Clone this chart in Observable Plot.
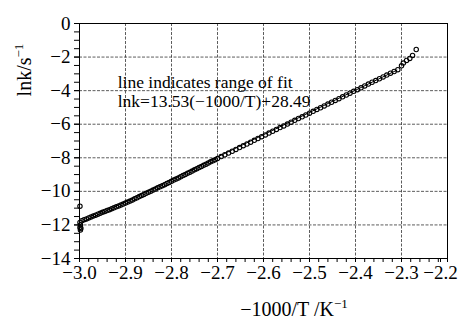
<!DOCTYPE html>
<html>
<head>
<meta charset="utf-8">
<script src="https://cdn.jsdelivr.net/npm/d3@7"></script>
<script src="https://cdn.jsdelivr.net/npm/@observablehq/plot@0.6"></script>
<style>
  html, body { margin: 0; padding: 0; background: #fff; }
  #chart { width: 462px; height: 320px; }
</style>
</head>
<body>
<div id="chart"></div>
<script>
// x tick labels / positions
const xTicks = [-3.0, -2.9, -2.8, -2.7, -2.6, -2.5, -2.4, -2.3, -2.2];
const yTicks = [0, -2, -4, -6, -8, -10, -12, -14];

// measured points: -1000/T (x) and ln k (y)
const xs = [
  -2.999, -2.998, -2.999, -2.998, -2.997, -2.999,
  -2.995, -2.990, -2.985, -2.980, -2.975, -2.970, -2.965, -2.960, -2.955, -2.950,
  -2.945, -2.940, -2.935, -2.930, -2.925, -2.920, -2.915, -2.910, -2.905, -2.900,
  -2.895, -2.890, -2.885, -2.880, -2.875, -2.870, -2.865, -2.860, -2.855, -2.850,
  -2.845, -2.840, -2.835, -2.830, -2.825, -2.820, -2.815, -2.810, -2.805, -2.800,
  -2.795, -2.790, -2.785, -2.780, -2.775, -2.770, -2.765, -2.760, -2.755, -2.750,
  -2.745, -2.740, -2.735, -2.730, -2.725, -2.720, -2.715, -2.710, -2.705, -2.700,
  -2.692, -2.684, -2.676, -2.668, -2.660, -2.652, -2.644, -2.636, -2.628, -2.620,
  -2.612, -2.604, -2.596, -2.588, -2.580, -2.572, -2.564, -2.556, -2.548, -2.540,
  -2.532, -2.524, -2.516, -2.508, -2.500, -2.492, -2.484, -2.476, -2.468, -2.460,
  -2.452, -2.444, -2.436, -2.428, -2.420, -2.412, -2.404, -2.396, -2.388, -2.380,
  -2.372, -2.364, -2.356, -2.348, -2.340, -2.332, -2.324, -2.316, -2.308,
  -2.300, -2.296, -2.289, -2.282, -2.276, -2.268
];
const ys = [
  -11.85, -12.00, -12.15, -12.30, -12.20, -10.88,
  -11.75, -11.69, -11.64, -11.58, -11.53, -11.47, -11.42, -11.36, -11.31, -11.25,
  -11.20, -11.14, -11.09, -11.03, -10.98, -10.92, -10.87, -10.81, -10.76, -10.70,
  -10.64, -10.57, -10.51, -10.44, -10.38, -10.31, -10.25, -10.18, -10.12, -10.05,
  -9.99, -9.92, -9.86, -9.79, -9.73, -9.66, -9.60, -9.53, -9.47, -9.40,
  -9.33, -9.26, -9.20, -9.13, -9.06, -8.99, -8.92, -8.86, -8.79, -8.72,
  -8.65, -8.58, -8.52, -8.45, -8.38, -8.31, -8.24, -8.18, -8.11, -8.04,
  -7.93, -7.82, -7.72, -7.61, -7.50, -7.39, -7.28, -7.18, -7.07, -6.96,
  -6.85, -6.74, -6.64, -6.53, -6.42, -6.31, -6.20, -6.10, -5.99, -5.88,
  -5.77, -5.66, -5.56, -5.45, -5.34, -5.23, -5.12, -5.02, -4.91, -4.80,
  -4.69, -4.58, -4.48, -4.37, -4.26, -4.15, -4.04, -3.94, -3.83, -3.72,
  -3.61, -3.50, -3.40, -3.29, -3.18, -3.07, -2.96, -2.86, -2.75,
  -2.52, -2.36, -2.20, -2.08, -1.90, -1.55
];

// fitted line over the range of the fit
const fitX = [-2.99, -2.31];
const fitY = [-11.80, -2.78];

const annotation = ["line indicates range of fit", "lnk=13.53(\u22121000/T)+28.49"];

const points = xs.map((x, i) => ({x, y: ys[i]}));
const fit = fitX.map((x, i) => ({x, y: fitY[i]}));

const xMinor = d3.range(-3.0, -2.199, 0.02);
const yMinor = d3.range(-14, 0.001, 0.5);
const fx = d3.format(".1f");
const fy = d3.format("d");

const serif = "Liberation Serif, serif";

const svg = Plot.plot({
  width: 462,
  height: 320,
  marginLeft: 79,
  marginRight: 15,
  marginTop: 23,
  marginBottom: 62,
  style: {fontFamily: serif, fontSize: "19px", color: "black", background: "white"},
  x: {domain: [-3.0, -2.2]},
  y: {domain: [-14, 0]},
  marks: [
    Plot.gridX(xTicks, {stroke: "#333", strokeOpacity: 1, strokeWidth: 0.8, strokeDasharray: "3,1.5"}),
    Plot.gridY(yTicks, {stroke: "#333", strokeOpacity: 1, strokeWidth: 0.8, strokeDasharray: "3,1.5"}),
    Plot.axisX(xMinor, {tickSize: 4, text: null, label: null}),
    Plot.axisY(yMinor, {tickSize: 5, text: null, label: null}),
    Plot.axisX(xTicks.slice(0, -1), {tickSize: 4, tickPadding: 3, tickFormat: fx, label: null, fontSize: 19}),
    Plot.axisX(xTicks.slice(-1), {tickSize: 4, tickPadding: 3, tickFormat: fx, label: null, fontSize: 19, dx: -7}),
    Plot.axisY(yTicks, {tickSize: 5, tickPadding: 4, tickFormat: fy, label: null, fontSize: 19}),
    Plot.frame({stroke: "black", strokeWidth: 1}),
    Plot.line(fit, {x: "x", y: "y", stroke: "black", strokeWidth: 1}),
    Plot.dot(points, {x: "x", y: "y", r: 2.2, stroke: "black", strokeWidth: 1.1, fill: "none"}),
    Plot.text([annotation.join("\n")], {
      x: -2.917, y: -3.0, text: d => d, textAnchor: "start", lineAnchor: "top",
      fontSize: 17.5, lineHeight: 1.1, fill: "black"
    })
  ]
});

const s = d3.select(svg);
// x axis title
const xt = s.append("text")
  .attr("x", 294).attr("y", 316)
  .attr("font-family", serif).attr("font-size", 20).attr("fill", "black");
xt.append("tspan").text("\u22121000/T /K");
xt.append("tspan").attr("dy", -8).attr("font-size", 13).text("\u22121");

// y axis title
const yt = s.append("text")
  .attr("transform", "translate(31,70) rotate(-90)")
  .attr("text-anchor", "middle")
  .attr("font-family", serif).attr("font-size", 20).attr("fill", "black");
yt.append("tspan").text("lnk/s");
yt.append("tspan").attr("dy", -8).attr("font-size", 13).text("\u22121");

document.getElementById("chart").appendChild(svg);
</script>
</body>
</html>
